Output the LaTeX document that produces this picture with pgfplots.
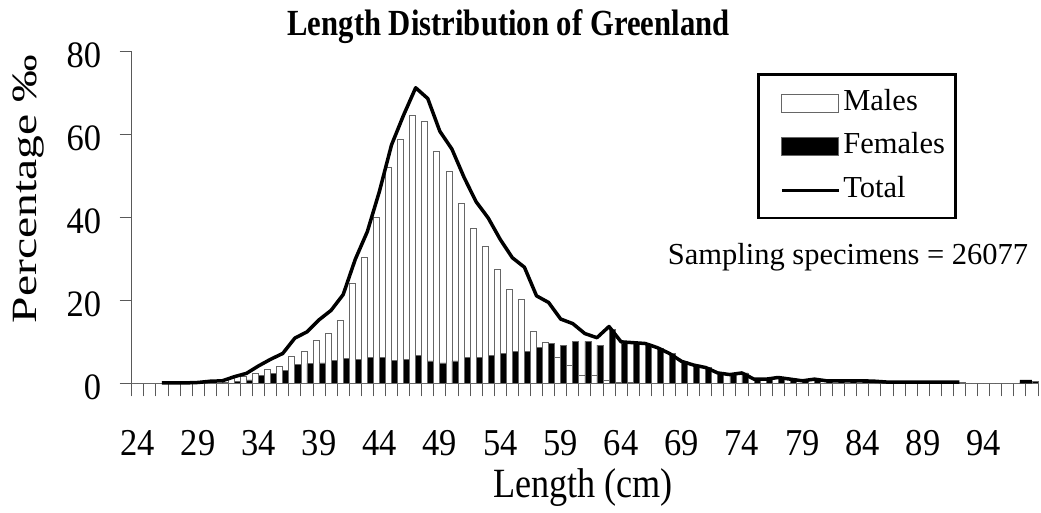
\documentclass[border=0pt]{standalone}
\usepackage{fontspec}
\setmainfont{Liberation Serif}
\usepackage{graphicx}
\usepackage{pgfplots}
\usepackage{pgfplotstable}
\pgfplotsset{compat=1.18}
\pgfplotsset{
  barleg/.style={legend image code/.code={\path (0pt,0pt); \draw[##1] (14pt,-9pt) rectangle (71pt,9pt);}},
  lineleg/.style={legend image code/.code={\path (0pt,0pt); \draw[##1, line width=3pt] (14pt,-1pt) -- (71pt,-1pt);}},
}

% length class (cm), males, females, total (per mille)
\pgfplotstableread{
L  M     F     T
24 0     0     nan
25 0     0     nan
26 0.1   0     0.1
27 0.1   0     0.1
28 0.1   0     0.1
29 0.1   0.1   0.2
30 0.3   0.2   0.5
31 0.4   0.2   0.6
32 1.2   0.4   1.6
33 1.6   0.8   2.4
34 2.4   1.8   4.2
35 3.4   2.4   5.8
36 4.0   3.2   7.2
37 6.4   4.5   10.9
38 7.6   4.8   12.4
39 10.4  4.9   15.3
40 12.0  5.6   17.6
41 15.3  6.1   21.4
42 24.1  5.8   29.9
43 30.3  6.3   36.6
44 40.0  6.3   46.3
45 52.0  5.5   57.5
46 58.9  5.8   64.7
47 64.6  6.7   71.3
48 63.3  5.4   68.7
49 55.9  4.9   60.8
50 51.1  5.4   56.5
51 43.4  6.3   49.7
52 37.5  6.3   43.8
53 33.1  6.8   39.9
54 27.5  7.2   34.7
55 22.7  7.6   30.3
56 20.3  7.7   28.0
57 12.5  8.6   21.1
58 9.8   9.7   19.5
59 6.3   9.2   15.5
60 4.3   10.1  14.4
61 1.9   10.1  12.0
62 1.8   9.2   11.0
63 0.7   13.0  13.7
64 0.3   9.7   10.0
65 0.2   9.6   9.8
66 0.1   9.5   9.6
67 0.1   8.5   8.6
68 0     7.2   7.2
69 0     5.3   5.3
70 0     4.4   4.4
71 0     3.8   3.8
72 0     2.5   2.5
73 0     2.1   2.1
74 0     2.5   2.5
75 0     1.0   1.0
76 0     1.0   1.0
77 0     1.4   1.4
78 0     1.0   1.0
79 0     0.6   0.6
80 0     1.0   1.0
81 0     0.6   0.6
82 0     0.6   0.6
83 0     0.6   0.6
84 0     0.6   0.6
85 0     0.5   0.5
86 0     0.3   0.3
87 0     0.3   0.3
88 0     0.3   0.3
89 0     0.3   0.3
90 0     0.3   0.3
91 0     0.3   0.3
92 0     0.3   0.3
93 0     0     nan
94 0     0     nan
95 0     0     nan
96 0     0     nan
97 0     0.4   0.4
98 0     0.4   0.4
}\lengthdata

\begin{document}
\begin{tikzpicture}
\useasboundingbox (-131.7pt,-129.7pt) rectangle (909.3pt,383.3pt);
\begin{axis}[
  at={(0pt,0pt)}, anchor=south west,
  scale only axis,
  width=906.3pt, height=331.6pt,
  xmin=23.5, xmax=98.5, ymin=0, ymax=80,
  axis lines*=left,
  axis line style={black!65, line width=0.9pt},
  clip=false,
  unbounded coords=jump,
  xtick={24,29,...,94},
  minor xtick={23.5,24.5,...,98.5},
  ytick={0,20,...,80},
  tick align=outside,
  major tick length=12pt,
  minor tick length=13pt,
  tick style={black!65, line width=0.9pt},
  major x tick style={draw=none},
  /pgf/number format/assume math mode=true,
  tick label style={font=\fontsize{34.5}{34.5}\selectfont},
  xticklabel={\scalebox{1}[1.1]{\pgfmathprintnumber{\tick}}},
  yticklabel={\scalebox{1}[1.08]{\pgfmathprintnumber{\tick}}},
  xticklabel style={anchor=base, inner sep=0pt, yshift=-60pt},
  yticklabel style={anchor=east, xshift=-15pt, yshift=-4pt},
  title={\scalebox{1}[1.2]{\textbf{Length Distribution of Greenland}}},
  title style={font=\fontsize{30.7}{32}\selectfont, at={(0.4158,1)}, anchor=base, yshift=10.7pt},
  xlabel={\scalebox{1}[1.15]{Length (cm)}},
  xlabel style={font=\fontsize{36.2}{38}\selectfont, at={(0.498,0)}, anchor=base, inner sep=0pt, yshift=-114pt},
  ylabel={\scalebox{1.34}[1]{Percentage ‰}},
  ylabel style={font=\fontsize{35.5}{36}\selectfont, at={(-0.1045,0.586)}, anchor=base},
  legend style={at={(0.6902,0.9345)}, anchor=north west, draw=black, line width=2.5pt,
    inner xsep=7.6pt, inner ysep=11.7pt, row sep=10.5pt, column sep=0pt,
    font=\fontsize{30.5}{30.5}\selectfont,
    nodes={inner sep=3pt, text height=21pt, text depth=6pt}},
  legend cell align=left,
]
\addplot[ybar, bar width=6.04pt, bar shift=-3.02pt, fill=white, draw=black!60, line width=0.7pt, barleg]
  table[x=L, y=M] {\lengthdata};
\addlegendentry{Males}
\addplot[ybar, bar width=6.04pt, bar shift=3.02pt, fill=black, draw=black!60, line width=0.7pt, barleg]
  table[x=L, y=F] {\lengthdata};
\addlegendentry{Females}
\addplot[black, line width=3.5pt, line join=round, lineleg]
  table[x=L, y=T] {\lengthdata};
\addlegendentry{Total}
\node[anchor=base, font=\fontsize{30.5}{30.5}\selectfont] at (rel axis cs:0.7904,0.3568) {Sampling specimens = 26077};
\end{axis}
\end{tikzpicture}
\end{document}
